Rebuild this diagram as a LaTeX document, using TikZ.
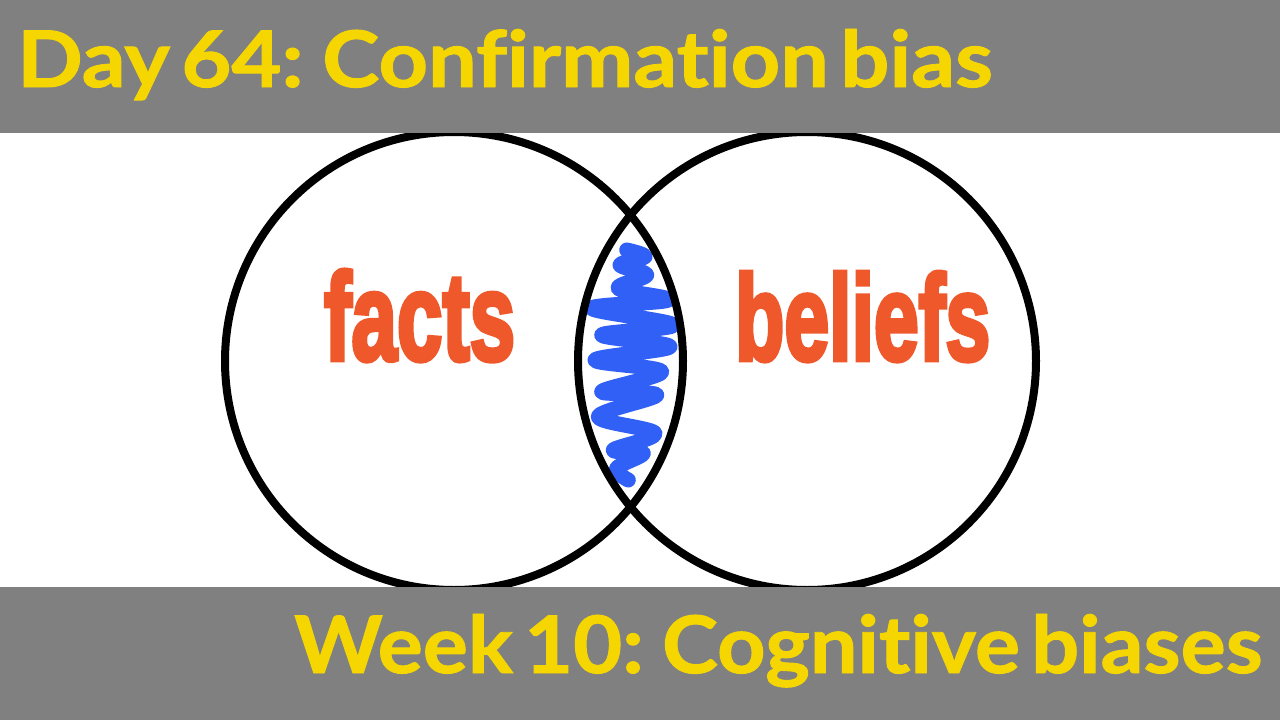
\documentclass[tikz,border=0pt]{standalone}
\usepackage{fontspec}
\usepackage{graphicx}
\usetikzlibrary{positioning}
\setsansfont{Lato}[Ligatures=NoCommon, WordSpace=0.55,
  BoldFeatures={FakeBold=1.2}]
\newfontfamily\wordfont{Liberation Sans}[BoldFeatures={FakeBold=4}]
\definecolor{bandgray}{RGB}{128,128,128}
\definecolor{titleyellow}{RGB}{246,214,0}
\definecolor{wordorange}{RGB}{238,88,42}
\definecolor{scribbleblue}{RGB}{48,96,245}
\tikzset{
  band/.style={fill=bandgray, draw=none},
  banner/.style={text=titleyellow, inner sep=0pt, anchor=base west,
    font=\sffamily\bfseries},
  venn/.style={circle, draw=black, line width=8pt, minimum size=458pt,
    inner sep=0pt},
  word/.style={text=wordorange, inner sep=0pt, anchor=base west,
    font=\wordfont\bfseries},
  scribble/.style={draw=scribbleblue, line width=15pt, line cap=round,
    line join=round}
}

\begin{document}
\begin{tikzpicture}[x=1pt,y=-1pt]
\useasboundingbox (0,0) rectangle (1280,720);
\fill[white] (0,0) rectangle (1280,720);

% Overlap scribble
\draw[scribble] plot[smooth, tension=0.6] coordinates {
  (626.7,250) (645,256.7) (620,265) (646.7,275) (618.3,288.3)
  (668.3,300) (591.7,308.3) (673.3,325) (601.7,335) (670,346.7)
  (595,360) (661.7,371.7) (601.7,391.7) (656.7,395) (598.3,416.7)
  (655,433.3) (613.3,450) (643.3,453.3) (616.7,468.3) (628.3,480)};

% Venn circles
\node[venn] (factsset) at (454,361) {};
\node[venn] (beliefsset) at (807,361) {};

% Set labels
\node[word] (facts) at (324,360) {\resizebox{191pt}{90pt}{facts}};
\node[word] (beliefs) at (735,360) {\resizebox{255pt}{88pt}{beliefs}};

% Top and bottom bands
\path[band] (0,0) rectangle (1280,133);
\path[band] (0,587) rectangle (1280,720);
\node[banner] (daytitle) at (17,87) {\resizebox{975pt}{58pt}{Day 64: Confirmation bias}};
\node[banner] (weektitle) at (294,673) {\resizebox{968pt}{59pt}{Week 10: Cognitive biases}};

\end{tikzpicture}
\end{document}
